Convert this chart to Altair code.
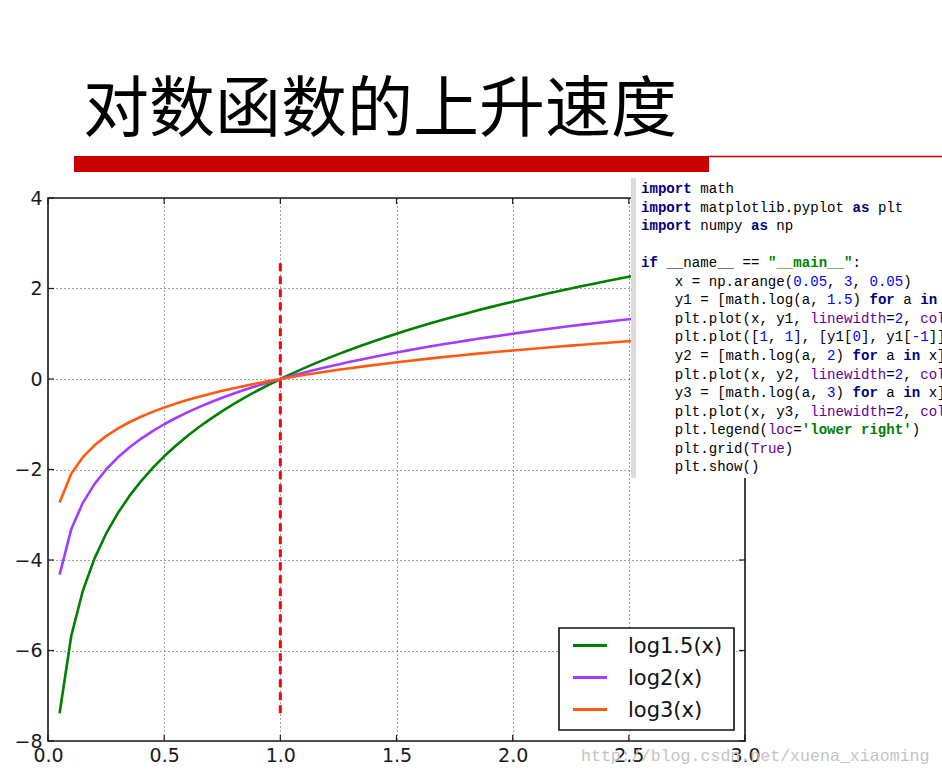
import altair as alt
import pandas as pd

# ---------------- data ----------------
X = [0.05, 0.10, 0.15, 0.20, 0.25, 0.30, 0.35, 0.40, 0.45, 0.50,
     0.55, 0.60, 0.65, 0.70, 0.75, 0.80, 0.85, 0.90, 0.95, 1.00,
     1.05, 1.10, 1.15, 1.20, 1.25, 1.30, 1.35, 1.40, 1.45, 1.50,
     1.55, 1.60, 1.65, 1.70, 1.75, 1.80, 1.85, 1.90, 1.95, 2.00,
     2.05, 2.10, 2.15, 2.20, 2.25, 2.30, 2.35, 2.40, 2.45, 2.50,
     2.55, 2.60, 2.65, 2.70, 2.75, 2.80, 2.85, 2.90, 2.95]

Y_LOG15 = [-7.388, -5.679, -4.679, -3.969, -3.419, -2.969, -2.589, -2.260, -1.969, -1.709,
           -1.474, -1.260, -1.062, -0.880, -0.710, -0.550, -0.401, -0.260, -0.127, 0.000,
           0.120, 0.235, 0.345, 0.450, 0.550, 0.647, 0.740, 0.830, 0.916, 1.000,
           1.081, 1.159, 1.235, 1.309, 1.380, 1.450, 1.517, 1.583, 1.647, 1.709,
           1.770, 1.830, 1.888, 1.945, 2.000, 2.054, 2.107, 2.159, 2.210, 2.260,
           2.309, 2.357, 2.404, 2.450, 2.495, 2.539, 2.583, 2.626, 2.668]

Y_LOG2 = [-4.322, -3.322, -2.737, -2.322, -2.000, -1.737, -1.515, -1.322, -1.152, -1.000,
          -0.862, -0.737, -0.621, -0.515, -0.415, -0.322, -0.234, -0.152, -0.074, 0.000,
          0.070, 0.138, 0.202, 0.263, 0.322, 0.379, 0.433, 0.485, 0.536, 0.585,
          0.632, 0.678, 0.722, 0.766, 0.807, 0.848, 0.888, 0.926, 0.963, 1.000,
          1.036, 1.070, 1.104, 1.138, 1.170, 1.202, 1.233, 1.263, 1.293, 1.322,
          1.350, 1.379, 1.406, 1.433, 1.459, 1.485, 1.511, 1.536, 1.561]

Y_LOG3 = [-2.727, -2.096, -1.727, -1.465, -1.262, -1.096, -0.956, -0.834, -0.727, -0.631,
          -0.544, -0.465, -0.392, -0.325, -0.262, -0.203, -0.148, -0.096, -0.047, 0.000,
          0.044, 0.087, 0.127, 0.166, 0.203, 0.239, 0.273, 0.306, 0.338, 0.369,
          0.399, 0.428, 0.456, 0.483, 0.509, 0.535, 0.560, 0.584, 0.608, 0.631,
          0.653, 0.675, 0.697, 0.718, 0.738, 0.758, 0.778, 0.797, 0.816, 0.834,
          0.852, 0.870, 0.887, 0.904, 0.921, 0.937, 0.953, 0.969, 0.985]

SERIES = ["log1.5(x)", "log2(x)", "log3(x)"]
COLORS = ["#007f00", "#a23cff", "#ff5a10"]

DIVIDER_X = [1, 1]
DIVIDER_Y = [Y_LOG15[0], Y_LOG15[-1]]

X_TICKS = [0.0, 0.5, 1.0, 1.5, 2.0, 2.5, 3.0]
Y_TICKS = [-8, -6, -4, -2, 0, 2, 4]

TITLE = "对数函数的上升速度"
WATERMARK = "http://blog.csdn.net/xuena_xiaoming"

# code listing shown on the slide: (text, kind) tokens per line
CODE = [
    [("import", "kw"), (" math", "plain")],
    [("import", "kw"), (" matplotlib.pyplot ", "plain"), ("as", "kw"), (" plt", "plain")],
    [("import", "kw"), (" numpy ", "plain"), ("as", "kw"), (" np", "plain")],
    [],
    [("if", "kw"), (" __name__ == ", "plain"), ('"__main__"', "str"), (":", "plain")],
    [("    x = np.arange(", "plain"), ("0.05", "num"), (", ", "plain"), ("3", "num"),
     (", ", "plain"), ("0.05", "num"), (")", "plain")],
    [("    y1 = [math.log(a, ", "plain"), ("1.5", "num"), (") ", "plain"), ("for", "kw"),
     (" a ", "plain"), ("in", "kw")],
    [("    plt.plot(x, y1, ", "plain"), ("linewidth", "arg"), ("=", "plain"), ("2", "num"),
     (", ", "plain"), ("col", "arg")],
    [("    plt.plot([", "plain"), ("1", "num"), (", ", "plain"), ("1", "num"),
     ("], [y1[", "plain"), ("0", "num"), ("], y1[", "plain"), ("-1", "num"), ("]]", "plain")],
    [("    y2 = [math.log(a, ", "plain"), ("2", "num"), (") ", "plain"), ("for", "kw"),
     (" a ", "plain"), ("in", "kw"), (" x]", "plain")],
    [("    plt.plot(x, y2, ", "plain"), ("linewidth", "arg"), ("=", "plain"), ("2", "num"),
     (", ", "plain"), ("col", "arg")],
    [("    y3 = [math.log(a, ", "plain"), ("3", "num"), (") ", "plain"), ("for", "kw"),
     (" a ", "plain"), ("in", "kw"), (" x]", "plain")],
    [("    plt.plot(x, y3, ", "plain"), ("linewidth", "arg"), ("=", "plain"), ("2", "num"),
     (", ", "plain"), ("col", "arg")],
    [("    plt.legend(", "plain"), ("loc", "arg"), ("=", "plain"), ("'lower right'", "str"),
     (")", "plain")],
    [("    plt.grid(", "plain"), ("True", "arg"), (")", "plain")],
    [("    plt.show()", "plain")],
]

# ---------------- styling ----------------
PLOT_W, PLOT_H = 697, 543
PAD = {"left": 48, "top": 198, "right": 197, "bottom": 33}
KIND_COLOR = {"kw": "#000080", "num": "#0000ff", "str": "#008000",
              "arg": "#660099", "plain": "#000000"}
KIND_BOLD = {"kw": True, "str": True, "num": False, "arg": False, "plain": False}

# ---------------- tables ----------------
curves = pd.DataFrame({
    "x": X * 3,
    "y": Y_LOG15 + Y_LOG2 + Y_LOG3,
    "series": [SERIES[0]] * len(X) + [SERIES[1]] * len(X) + [SERIES[2]] * len(X),
})
divider = pd.DataFrame({"x": DIVIDER_X, "y": DIVIDER_Y})
xt = pd.DataFrame({"v": X_TICKS})
yt = pd.DataFrame({"v": Y_TICKS})

xs = alt.Scale(domain=[0, 3], nice=False, zero=False)
ys = alt.Scale(domain=[-8, 4], nice=False, zero=False)
cs = alt.Scale(domain=SERIES, range=COLORS)

axis_common = dict(title=None, ticks=False, domain=False, grid=True,
                   gridDash=[1, 3], gridColor="#333", gridWidth=1, gridOpacity=0.9,
                   labelFont="DejaVu Sans", labelFontSize=19, labelColor="#1a1a1a",
                   labelFlush=False, labelOverlap=False)


def curve_layer(name):
    return alt.Chart(curves).transform_filter(alt.datum.series == name).mark_line(
        strokeWidth=2.6, strokeJoin="round"
    ).encode(
        x=alt.X("x:Q", scale=xs, axis=alt.Axis(values=X_TICKS, format=".1f",
                                                labelPadding=5, **axis_common)),
        y=alt.Y("y:Q", scale=ys, axis=alt.Axis(values=Y_TICKS, format="d",
                                                labelPadding=6, **axis_common)),
        color=alt.Color("series:N", scale=cs, legend=None),
    )


green = curve_layer(SERIES[0])
purple = curve_layer(SERIES[1])
orange = curve_layer(SERIES[2])

red_line = alt.Chart(divider).mark_line(color="#ff0000", strokeWidth=3,
                                         strokeDash=[8, 5]).encode(
    x=alt.X("x:Q", scale=xs), y=alt.Y("y:Q", scale=ys))

# inward ticks on all four sides (matplotlib classic look)
tk = dict(color="#1a1a1a", strokeWidth=1.2)
xt_bottom = alt.Chart(xt).mark_rule(**tk).encode(
    x=alt.X("v:Q", scale=xs), y=alt.value(PLOT_H), y2=alt.value(PLOT_H - 6))
xt_top = alt.Chart(xt).mark_rule(**tk).encode(
    x=alt.X("v:Q", scale=xs), y=alt.value(0), y2=alt.value(6))
yt_left = alt.Chart(yt).mark_rule(**tk).encode(
    y=alt.Y("v:Q", scale=ys), x=alt.value(0), x2=alt.value(6))
yt_right = alt.Chart(yt).mark_rule(**tk).encode(
    y=alt.Y("v:Q", scale=ys), x=alt.value(PLOT_W), x2=alt.value(PLOT_W - 6))

# legend (lower right)
leg_df = pd.DataFrame({"series": SERIES, "row": [0, 1, 2]})
leg_df["py"] = 447.5 + 32 * leg_df["row"]
leg_box = alt.Chart(pd.DataFrame({"a": [0]})).mark_rect(
    fill="white", stroke="#111", strokeWidth=1.6).encode(
    x=alt.value(511), x2=alt.value(686), y=alt.value(430), y2=alt.value(532))
leg_lines = alt.Chart(leg_df).mark_rule(strokeWidth=3).encode(
    x=alt.value(525), x2=alt.value(559),
    y=alt.Y("py:Q", scale=None),
    color=alt.Color("series:N", scale=cs, legend=None))
leg_text = alt.Chart(leg_df).mark_text(
    align="left", baseline="middle", font="DejaVu Sans", fontSize=21, color="#111",
    dy=1).encode(
    x=alt.value(580), y=alt.Y("py:Q", scale=None), text="series:N")

# slide decorations
one = pd.DataFrame({"t": [TITLE]})
title = alt.Chart(one).mark_text(
    align="left", baseline="alphabetic", font="Noto Sans CJK SC", fontSize=66,
    color="#000000").encode(x=alt.value(35), y=alt.value(-67), text="t:N")
red_bar = alt.Chart(one).mark_rect(color="#c80000").encode(
    x=alt.value(26), x2=alt.value(661), y=alt.value(-42), y2=alt.value(-26))
red_thin = alt.Chart(one).mark_rule(color="#c80000", strokeWidth=1.5).encode(
    x=alt.value(660), x2=alt.value(900), y=alt.value(-41.5))

# code overlay (screenshot of the source)
panel = alt.Chart(one).mark_rect(fill="white").encode(
    x=alt.value(583), x2=alt.value(900), y=alt.value(-20), y2=alt.value(280))
gutter = alt.Chart(one).mark_rect(fill="#dcdcdc").encode(
    x=alt.value(583), x2=alt.value(588), y=alt.value(-20), y2=alt.value(280))

CODE_X0, CODE_Y0, CHAR_W, LINE_H, CODE_FS = 593.0, -9.0, 8.46, 18.55, 14.1
rows = []
for li, toks in enumerate(CODE):
    col = 0
    for text, kind in toks:
        lead = len(text) - len(text.lstrip(" "))
        body = text.strip(" ")
        if body:
            rows.append({"text": body, "px": CODE_X0 + (col + lead) * CHAR_W,
                         "py": CODE_Y0 + li * LINE_H, "color": KIND_COLOR[kind],
                         "bold": KIND_BOLD[kind]})
        col += len(text)
code_df = pd.DataFrame(rows)


def code_layer(bold):
    return alt.Chart(code_df[code_df["bold"] == bold]).mark_text(
        align="left", baseline="middle", font="Liberation Mono", fontSize=CODE_FS,
        fontWeight="bold" if bold else "normal").encode(
        x=alt.X("px:Q", scale=None), y=alt.Y("py:Q", scale=None),
        text="text:N", color=alt.Color("color:N", scale=None))


watermark = alt.Chart(pd.DataFrame({"t": [WATERMARK]})).mark_text(
    align="left", baseline="alphabetic", font="Liberation Mono", fontSize=16.6,
    color="#c4c4c4").encode(x=alt.value(533), y=alt.value(563), text="t:N")

chart = alt.layer(
    green, red_line, purple, orange,
    xt_bottom, xt_top, yt_left, yt_right,
    leg_box, leg_lines, leg_text,
    panel, gutter, code_layer(False), code_layer(True),
    title, red_bar, red_thin, watermark,
).properties(
    width=PLOT_W, height=PLOT_H, padding=PAD,
    autosize=alt.AutoSizeParams(type="none"), background="white",
).configure_view(stroke="#1a1a1a", strokeWidth=1.6)

chart.save("out.html", embed_options={"renderer": "svg", "actions": False})
